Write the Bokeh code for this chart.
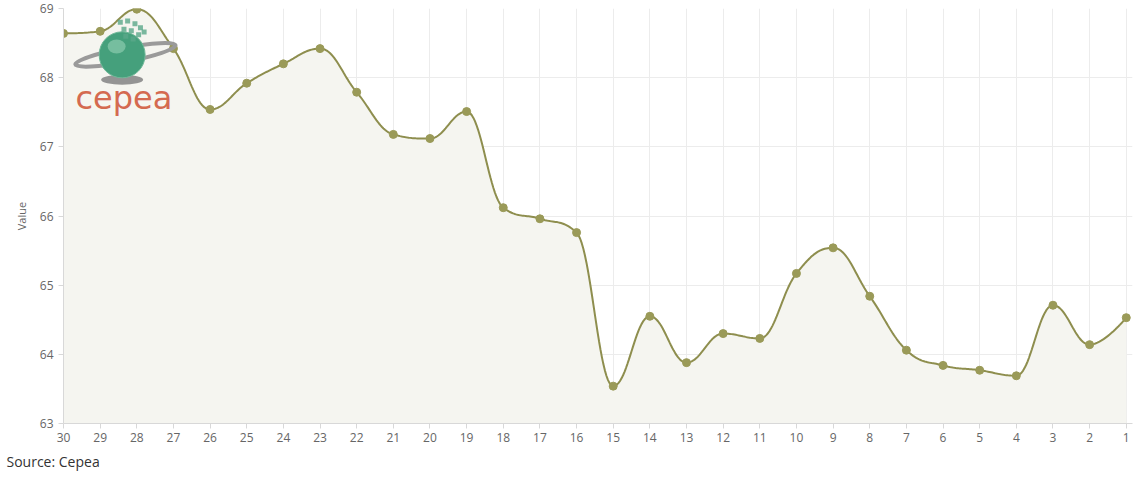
import numpy as np
from bokeh.plotting import figure
from bokeh.models import Range1d, FixedTicker, Title, Label
from bokeh.embed import file_html
from bokeh.resources import INLINE

days = [30, 29, 28, 27, 26, 25, 24, 23, 22, 21, 20, 19, 18, 17, 16, 15,
        14, 13, 12, 11, 10, 9, 8, 7, 6, 5, 4, 3, 2, 1]
values = [68.64, 68.67, 68.99, 68.42, 67.54, 67.92, 68.20, 68.42, 67.79, 67.18,
          67.12, 67.51, 66.12, 65.96, 65.76, 63.54, 64.55, 63.88, 64.30, 64.23,
          65.17, 65.54, 64.84, 64.06, 63.84, 63.77, 63.69, 64.71, 64.14, 64.53]
y_ticks = [63, 64, 65, 66, 67, 68, 69]

LINE = "#8e8e4e"
MARK = "#9a9a58"
FILL = "#f5f5f0"
GRID = "#ececec"
TXT = "#666666"

xs = np.arange(len(days), dtype=float)
ys = np.array(values, dtype=float)


def control_points(x, y, i, smoothing=1.5):
    denom = smoothing + 1
    px, py = x[i], y[i]
    if i == 0 or i == len(x) - 1:
        return px, py, px, py
    lx, ly = x[i - 1], y[i - 1]
    nx, ny = x[i + 1], y[i + 1]
    lcx = (smoothing * px + lx) / denom
    lcy = (smoothing * py + ly) / denom
    rcx = (smoothing * px + nx) / denom
    rcy = (smoothing * py + ny) / denom
    if rcx != lcx:
        corr = ((rcy - lcy) * (rcx - px)) / (rcx - lcx) + py - rcy
        lcy += corr
        rcy += corr
    if lcy > ly and lcy > py:
        lcy = max(ly, py)
        rcy = 2 * py - lcy
    elif lcy < ly and lcy < py:
        lcy = min(ly, py)
        rcy = 2 * py - lcy
    if rcy > ny and rcy > py:
        rcy = max(ny, py)
        lcy = 2 * py - rcy
    elif rcy < ny and rcy < py:
        rcy = min(ny, py)
        lcy = 2 * py - rcy
    return lcx, lcy, rcx, rcy


ctrl = [control_points(xs, ys, i) for i in range(len(xs))]
cx, cy = [], []
t = np.linspace(0, 1, 25)
for i in range(len(xs) - 1):
    p0 = (xs[i], ys[i])
    p1 = (ctrl[i][2], ctrl[i][3])
    p2 = (ctrl[i + 1][0], ctrl[i + 1][1])
    p3 = (xs[i + 1], ys[i + 1])
    bx = ((1 - t) ** 3) * p0[0] + 3 * ((1 - t) ** 2) * t * p1[0] + 3 * (1 - t) * t ** 2 * p2[0] + t ** 3 * p3[0]
    by = ((1 - t) ** 3) * p0[1] + 3 * ((1 - t) ** 2) * t * p1[1] + 3 * (1 - t) * t ** 2 * p2[1] + t ** 3 * p3[1]
    if i > 0:
        bx, by = bx[1:], by[1:]
    cx.extend(bx.tolist())
    cy.extend(by.tolist())

p = figure(width=1138, height=475, output_backend="svg", toolbar_location=None,
           x_range=Range1d(0, 29.17), y_range=Range1d(63, 69),
           min_border_left=63, min_border_right=6, min_border_top=8, min_border_bottom=10)
p.outline_line_color = None
p.background_fill_color = "white"

p.varea(x=cx, y1=[63] * len(cx), y2=cy, fill_color=FILL, fill_alpha=1.0)
p.line(cx, cy, line_color=LINE, line_width=2)
p.scatter(xs, ys, size=8, fill_color=MARK, line_color=MARK)

# Cepea logo (decorative approximation)
p.ellipse(x=[1.6], y=[67.97], width=[42], height=[10], width_units="screen",
          height_units="screen", fill_color="#8a8a8a", line_color=None, fill_alpha=0.9)
p.ellipse(x=[1.69], y=[68.33], width=[102], height=[14], angle=[0.19],
          width_units="screen", height_units="screen", fill_color=None,
          line_color="#9a9a9a", line_width=4)
p.ellipse(x=[1.6], y=[68.33], width=[46], height=[46], width_units="screen",
          height_units="screen", fill_color="#45a07c", line_color="#6fb898", line_width=1)
p.ellipse(x=[1.45], y=[68.45], width=[18], height=[14], width_units="screen",
          height_units="screen", fill_color="#8ccaae", line_color=None, fill_alpha=0.7)
p.scatter(x=[1.55, 1.75, 1.95, 2.1, 1.65, 1.85, 2.05, 1.9, 2.2, 1.7],
          y=[68.80, 68.82, 68.78, 68.72, 68.70, 68.68, 68.62, 68.56, 68.66, 68.60],
          marker="square", size=5, fill_color="#5aa88a", line_color=None, fill_alpha=0.8)
p.add_layout(Label(x=12, y=307, x_units="screen", y_units="screen", text="cepea",
                   text_color="#d46a50", text_font="DejaVu Sans", text_font_size="32px"))

p.xaxis.ticker = FixedTicker(ticks=xs.tolist())
p.xaxis.major_label_overrides = {i: str(d) for i, d in enumerate(days)}
p.yaxis.ticker = FixedTicker(ticks=y_ticks)
p.yaxis.axis_label = "Value"

for ax in (p.xaxis, p.yaxis):
    ax.axis_line_color = "#d8d8d8"
    ax.major_tick_line_color = "#d8d8d8"
    ax.minor_tick_line_color = None
    ax.major_tick_out = 5
    ax.major_tick_in = 0
    ax.major_label_text_color = TXT
    ax.major_label_text_font = "Open Sans"
    ax.major_label_text_font_size = "12px"
p.xaxis.major_label_standoff = 4
p.yaxis.major_label_standoff = 5
p.yaxis.axis_label_text_font = "Open Sans"
p.yaxis.axis_label_text_font_size = "11px"
p.yaxis.axis_label_text_font_style = "normal"
p.yaxis.axis_label_text_color = TXT
p.yaxis.axis_label_standoff = 8

p.xgrid.grid_line_color = GRID
p.ygrid.grid_line_color = GRID

src = Title(text="Source: Cepea", align="left", text_font="Open Sans",
            text_font_size="14px", text_font_style="normal", text_color="#333333",
            offset=-57)
p.add_layout(src, "below")

open("out.html", "w").write(file_html(p, INLINE))
